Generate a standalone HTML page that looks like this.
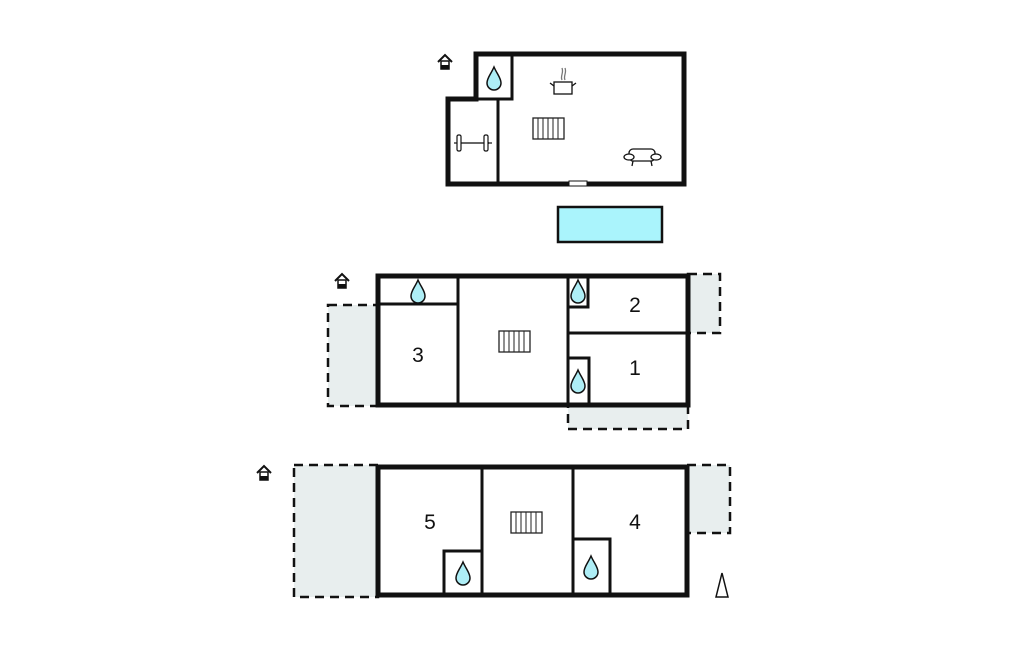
<!DOCTYPE html>
<html><head><meta charset="utf-8"><style>
html,body{margin:0;padding:0;background:#fff;}
svg{display:block;}
text{font-family:"Liberation Sans",sans-serif;font-size:21px;fill:#111;}
</style></head><body>
<svg width="1024" height="652" viewBox="0 0 1024 652" xmlns="http://www.w3.org/2000/svg">
<defs>
<g id="drop"><path d="M0,-11 C-3,-4 -7,0 -7,5 A7,7 0 0 0 7,5 C7,0 3,-4 0,-11 Z" fill="#aeeef6" stroke="#111" stroke-width="1.5"/></g>
<g id="stair"><rect x="0" y="0" width="31" height="21" fill="#fff" stroke="#222" stroke-width="1.3"/>
<path d="M5,0V21M10,0V21M15,0V21M20,0V21M25,0V21" stroke="#222" stroke-width="1"/></g>
<g id="house"><path d="M0,7 L7,0 L14,7" fill="none" stroke="#111" stroke-width="2"/><rect x="3" y="6" width="8" height="8" fill="#fff" stroke="#111" stroke-width="1.5"/><rect x="3" y="10" width="8" height="4" fill="#111"/></g>
</defs>

<!-- Top floor -->
<rect x="558" y="207" width="104" height="35" fill="#aaf4fc" stroke="#111" stroke-width="2.5"/>
<path d="M476,54 H684 V184 H448 V99 H476 Z" fill="#fff" stroke="#111" stroke-width="5"/>
<path d="M476,99 H512 V54" fill="none" stroke="#111" stroke-width="3"/>
<path d="M498,99 V184" stroke="#111" stroke-width="3"/>
<rect x="569" y="181" width="18" height="5" fill="#fff" stroke="#111" stroke-width="1"/>
<use href="#drop" x="494" y="78"/>
<use href="#house" x="438" y="55"/>
<use href="#stair" x="533" y="118"/>
<!-- dumbbell -->
<g stroke="#111" fill="#fff" stroke-width="1.2">
<line x1="459" y1="143" x2="489" y2="143" stroke="#666" stroke-width="2"/>
<rect x="457" y="135" width="4" height="16" rx="1.5"/>
<rect x="484" y="135" width="4" height="16" rx="1.5"/>
<line x1="454" y1="143" x2="457" y2="143"/><line x1="488" y1="143" x2="492" y2="143"/>
</g>
<!-- pot -->
<g stroke="#111" fill="none" stroke-width="1.3">
<rect x="554" y="82" width="18" height="12" fill="#fff"/>
<path d="M550,83 L554,86 M576,83 L572,86"/>
<path d="M562,80 C560,76 564,73 562,68 M565,80 C563,76 567,73 565,68" stroke="#777"/>
</g>
<!-- sofa -->
<g stroke="#111" fill="#fff" stroke-width="1.3">
<rect x="629" y="149" width="26" height="12" rx="4"/>
<ellipse cx="629" cy="157" rx="5" ry="3"/>
<ellipse cx="656" cy="157" rx="5" ry="3"/>
<path d="M633,161 L632,166 M651,161 L652,166"/>
</g>

<!-- Middle floor -->
<g fill="#e8eeee" stroke="#111" stroke-width="2.5" stroke-dasharray="9,6">
<rect x="328" y="305" width="50" height="101"/>
<rect x="688" y="274" width="32" height="59"/>
<rect x="568" y="405" width="120" height="24"/>
</g>
<rect x="378" y="276" width="310" height="129" fill="#fff" stroke="#111" stroke-width="5"/>
<g stroke="#111" stroke-width="3" fill="none">
<path d="M378,304 H458 M458,276 V405 M568,276 V405 M568,333 H688"/>
<path d="M568,307 H588 V276"/>
<path d="M568,358 H589 V405"/>
</g>
<use href="#drop" x="418" y="291"/>
<use href="#drop" x="578" y="291"/>
<use href="#drop" x="578" y="381"/>
<use href="#house" x="335" y="274"/>
<use href="#stair" x="499" y="331"/>
<text x="635" y="312" text-anchor="middle">2</text>
<text x="418" y="362" text-anchor="middle">3</text>
<text x="635" y="375" text-anchor="middle">1</text>

<!-- Bottom floor -->
<g fill="#e8eeee" stroke="#111" stroke-width="2.5" stroke-dasharray="9,6">
<rect x="294" y="465" width="84" height="132"/>
<rect x="687" y="465" width="43" height="68"/>
</g>
<rect x="378" y="467" width="309" height="128" fill="#fff" stroke="#111" stroke-width="5"/>
<g stroke="#111" stroke-width="3" fill="none">
<path d="M482,467 V595 M573,467 V595"/>
<path d="M444,595 V551 H482"/>
<path d="M573,539 H610 V595"/>
</g>
<use href="#drop" x="463" y="573"/>
<use href="#drop" x="591" y="567"/>
<use href="#house" x="257" y="466"/>
<use href="#stair" x="511" y="512"/>
<text x="430" y="529" text-anchor="middle">5</text>
<text x="635" y="529" text-anchor="middle">4</text>
<path d="M722,573 L716,597 H728 Z" fill="#fff" stroke="#111" stroke-width="1.5"/>
</svg>
</body></html>
